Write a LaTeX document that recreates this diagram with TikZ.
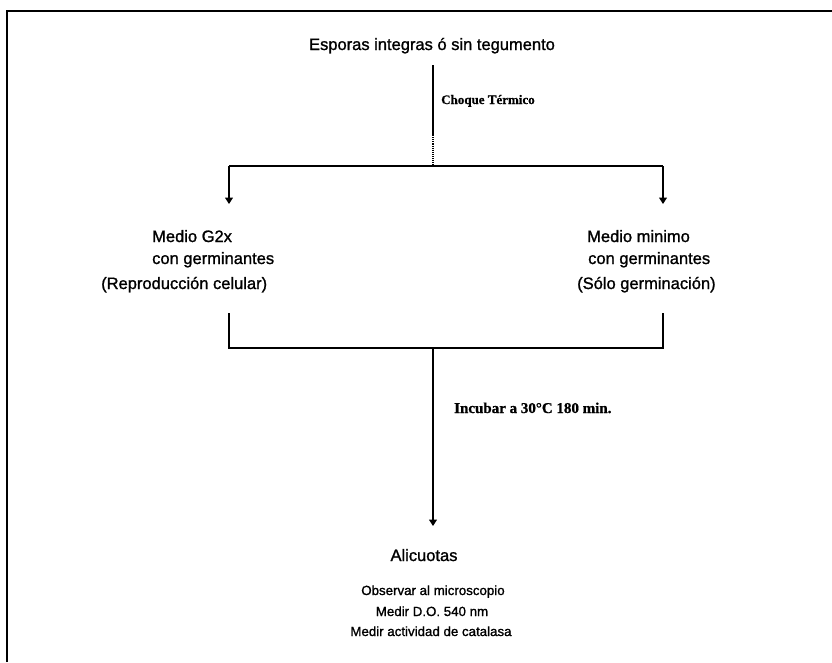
\documentclass[tikz,border=0pt]{standalone}
\usepackage{fontspec}
\setmainfont{Liberation Sans}[BoldFont={Liberation Sans},BoldFeatures={FakeBold=1.2}]
\newfontfamily\serifbf{Liberation Serif Bold}[FakeBold=0.8]
\usetikzlibrary{arrows.meta}

\begin{document}
\begin{tikzpicture}[x=1pt,y=-1pt,
    line/.style={line width=1.1pt, line cap=butt},
    flowarrow/.style={line, -{Triangle[width=8pt,length=6.5pt]}},
    bigtxt/.style={inner sep=0pt, font=\bfseries\fontsize{16.5}{20}\selectfont},
    smalltxt/.style={inner sep=0pt, font=\bfseries\fontsize{13.3}{16}\selectfont},
    steplabel/.style={inner sep=0pt, font=\serifbf\fontsize{13}{16}\selectfont}
  ]
  \useasboundingbox (0,0) rectangle (832,662);

  % page frame (top and left edges)
  \draw[line width=1.3pt] (7,662) -- (7,11) -- (832,11);

  % starting material
  \node[bigtxt, anchor=base] (title) at (432,50) {Esporas integras ó sin tegumento};
  \coordinate (t0) at (433,65);
  \coordinate (t1) at (433,135);
  \coordinate (split) at (433,166);
  \draw[line] (t0) -- (t1);
  \draw[line, densely dotted] (t1) -- (split);
  \node[steplabel, anchor=base west] (heat) at (441,104) {Choque Térmico};

  % branching to the two media
  \coordinate (sl) at (229,166);
  \coordinate (sr) at (663,166);
  \coordinate (al) at (229,204);
  \coordinate (ar) at (663,204);
  \draw[line] (sl) -- (sr);
  \draw[flowarrow] (sl) -- (al);
  \draw[flowarrow] (sr) -- (ar);

  % left medium
  \node[bigtxt, anchor=base west] (l1) at (152,242) {Medio G2x};
  \node[bigtxt, anchor=base west] (l2) at (152,264) {con germinantes};
  \node[bigtxt, anchor=base west] (l3) at (101,289) {(Reproducción celular)};

  % right medium
  \node[bigtxt, anchor=base west] (r1) at (587,242) {Medio minimo};
  \node[bigtxt, anchor=base west] (r2) at (588,264) {con germinantes};
  \node[bigtxt, anchor=base west] (r3) at (577,289) {(Sólo germinación)};

  % merging both branches
  \coordinate (ml0) at (229,313);
  \coordinate (mr0) at (663,313);
  \coordinate (ml) at (229,348);
  \coordinate (mr) at (663,348);
  \coordinate (join) at (433,348);
  \coordinate (aend) at (433,526);
  \draw[line] (ml0) -- (ml) -- (mr) -- (mr0);
  \draw[flowarrow] (join) -- (aend);
  \node[steplabel, font=\serifbf\fontsize{15}{18}\selectfont, anchor=base west] (incub) at (454,413) {Incubar a 30°C 180 min.};

  % sampling and measurements
  \node[bigtxt, anchor=base] (alic) at (424,561) {Alicuotas};
  \node[smalltxt, anchor=base] (m1) at (433,595) {Observar al microscopio};
  \node[smalltxt, anchor=base] (m2) at (432,616) {Medir D.O. 540 nm};
  \node[smalltxt, anchor=base] (m3) at (431,636) {Medir actividad de catalasa};
\end{tikzpicture}
\end{document}
